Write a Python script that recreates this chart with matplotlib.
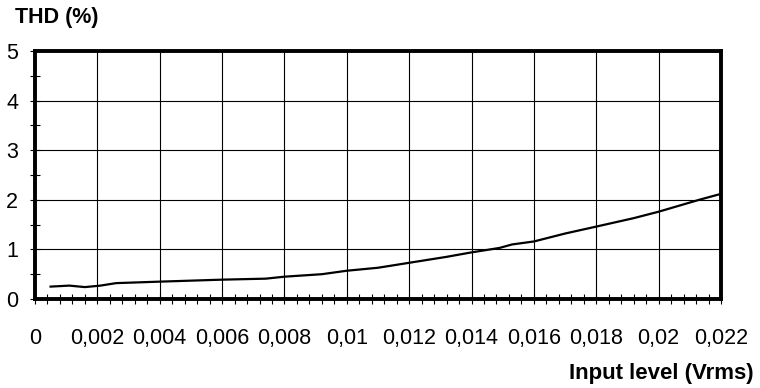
import matplotlib
matplotlib.use("Agg")
import matplotlib.pyplot as plt
from matplotlib.ticker import MultipleLocator

# values
input_level = [0.0005, 0.0011, 0.0016, 0.0021, 0.0026, 0.004, 0.006, 0.0074,
               0.008, 0.0092, 0.01, 0.011, 0.012, 0.0132, 0.014, 0.0149,
               0.0153, 0.016, 0.017, 0.018, 0.0192, 0.02, 0.0213, 0.022]
thd = [0.25, 0.27, 0.24, 0.27, 0.32, 0.35, 0.39, 0.41,
       0.45, 0.50, 0.57, 0.63, 0.73, 0.85, 0.94, 1.03,
       1.10, 1.16, 1.32, 1.46, 1.63, 1.76, 2.0, 2.12]

x_ticks = [0, 0.002, 0.004, 0.006, 0.008, 0.01, 0.012, 0.014, 0.016, 0.018, 0.02, 0.022]
x_tick_labels = ["0", "0,002", "0,004", "0,006", "0,008", "0,01", "0,012",
                 "0,014", "0,016", "0,018", "0,02", "0,022"]
y_ticks = [0, 1, 2, 3, 4, 5]
y_tick_labels = ["0", "1", "2", "3", "4", "5"]

plt.rcParams['font.family'] = ['Liberation Sans', 'DejaVu Sans']

fig = plt.figure(figsize=(7.6, 3.88), dpi=100)
ax = fig.add_axes([35 / 760, 1 - 299 / 388, 686 / 760, 248 / 388])

ax.plot(input_level, thd, color="black", lw=1.6, zorder=3)

ax.set_xlim(0, 0.022)
ax.set_ylim(0, 5)
ax.set_xticks(x_ticks)
ax.set_xticklabels(x_tick_labels)
ax.set_yticks(y_ticks)
ax.set_yticklabels(y_tick_labels)
ax.xaxis.set_minor_locator(MultipleLocator(0.0004))
ax.yaxis.set_minor_locator(MultipleLocator(0.5))

ax.grid(True, which="major", color="black", lw=0.8)
ax.set_axisbelow(True)

for s in ax.spines.values():
    s.set_linewidth(2.8)
    s.set_zorder(4)

ax.tick_params(axis="both", which="both", direction="inout", length=7,
               width=0.8, labelsize=15.5)
ax.tick_params(axis="x", pad=17.5)
ax.tick_params(axis="y", pad=8.5)

fig.text(15 / 760, 1 - 18 / 388, "THD (%)", fontsize=15.5, fontweight="bold",
         ha="left", va="center")
fig.text(754 / 760, 1 - 373 / 388, "Input level (Vrms)", fontsize=16,
         fontweight="bold", ha="right", va="center")

fig.savefig("out.png", dpi=100)
